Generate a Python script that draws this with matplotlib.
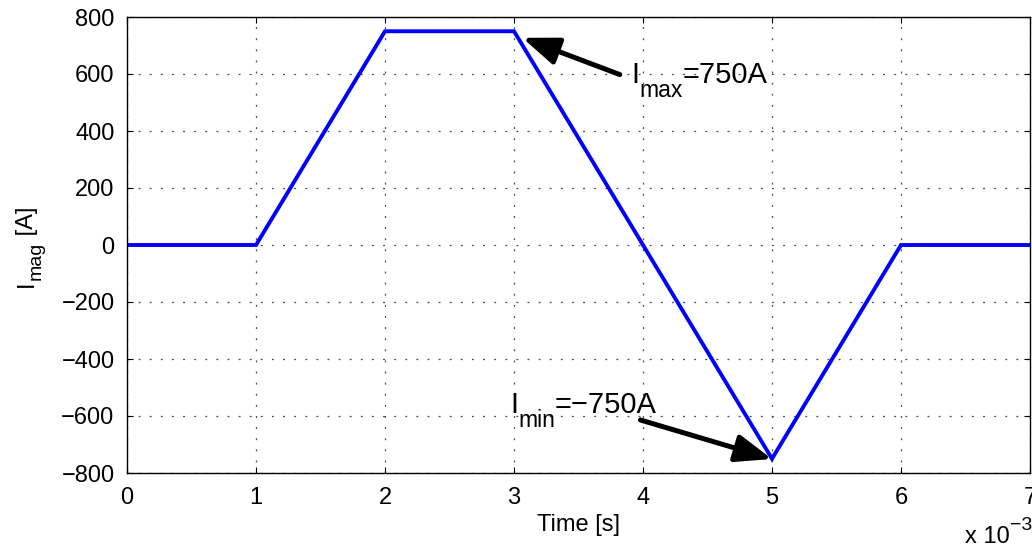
import matplotlib
matplotlib.use("Agg")
import matplotlib.pyplot as plt
from matplotlib.ticker import FuncFormatter

plt.rcParams['font.family'] = ['Liberation Sans', 'DejaVu Sans']
plt.rcParams['lines.scale_dashes'] = False

# Data
time_s = [0.0, 0.001, 0.002, 0.003, 0.005, 0.006, 0.007]
current_a = [0, 0, 750, 750, -750, 0, 0]
y_ticks = [-800, -600, -400, -200, 0, 200, 400, 600, 800]
x_ticks = [0, 0.001, 0.002, 0.003, 0.004, 0.005, 0.006, 0.007]

W, H = 1032, 549
fig = plt.figure(figsize=(W / 100, H / 100), dpi=100)
ax = fig.add_axes([127 / W, (H - 473) / H, (1030 - 127) / W, (473 - 17) / H])

ax.plot(time_s, current_a, color=(0, 0, 1), lw=2.8, solid_joinstyle='miter')

ax.set_xlim(0, 0.007)
ax.set_ylim(-800, 800)
ax.set_xticks(x_ticks)
ax.set_yticks(y_ticks)
ax.xaxis.set_major_formatter(FuncFormatter(lambda v, p: f"{v*1e3:.0f}"))
ax.yaxis.set_major_formatter(FuncFormatter(lambda v, p: f"{v:.0f}".replace('-', '\u2212')))

ax.tick_params(direction='in', length=4, width=0.8, top=True, right=True,
               labelsize=17, pad=9, colors='k')
ax.tick_params(axis='x', pad=10)
for s in ax.spines.values():
    s.set_linewidth(1.0)
    s.set_color('k')

ax.grid(True, color='0.3', lw=0.9, linestyle=(0, (1.4, 6.6)))

ax.set_xlabel('Time [s]', fontsize=17, labelpad=4)


def fx(px):
    return px / W


def fy(py):
    return 1 - py / H


# y label: I_mag [A] (rotated, composed)
t_I = fig.text(fx(33), fy(287), 'I', rotation=90, rotation_mode='anchor',
               ha='left', va='baseline', fontsize=17)
t_mag = ax.annotate('mag', xy=(fx(33), 1), xycoords=('figure fraction', t_I),
                    xytext=(5.2, 0), textcoords='offset points', rotation=90,
                    rotation_mode='anchor', ha='left', va='baseline', fontsize=14)
ax.annotate(' [A]', xy=(fx(33), 1), xycoords=('figure fraction', t_mag),
            xytext=(0, 0), textcoords='offset points', rotation=90,
            rotation_mode='anchor', ha='left', va='baseline', fontsize=17)

# x10^-3 multiplier
t_x = fig.text(fx(965), fy(543), 'x 10', ha='left', va='baseline', fontsize=17)
ax.annotate('\u22123', xy=(1, fy(543)), xycoords=(t_x, 'figure fraction'),
            xytext=(0.5, 9.5), textcoords='offset points', ha='left', va='baseline',
            fontsize=14, annotation_clip=False)

# arrows
arrow = dict(arrowstyle='-|>,head_length=1.1,head_width=0.42', lw=3.6, color='k',
             shrinkA=0, shrinkB=0, mutation_scale=20)
ax.annotate('', xy=(0.003065, 727), xytext=(0.00382, 598), arrowprops=arrow)
ax.annotate('', xy=(0.005, -751), xytext=(0.00398, -614), arrowprops=arrow)


def label(x, y_base, sub, rest):
    t1 = ax.text(x, y_base, 'I', fontsize=21, ha='left', va='baseline')
    t2 = ax.annotate(sub, xy=(1, y_base), xycoords=(t1, 'data'), xytext=(0, -10),
                     textcoords='offset points', ha='left', va='baseline', fontsize=16.5)
    ax.annotate(rest, xy=(1, y_base), xycoords=(t2, 'data'), xytext=(0, 0),
                textcoords='offset points', ha='left', va='baseline', fontsize=21)


label(0.00391, 568, 'max', '=750A')
label(0.00297, -590, 'min', '=\u2212750A')

fig.savefig('out.png', dpi=100)
